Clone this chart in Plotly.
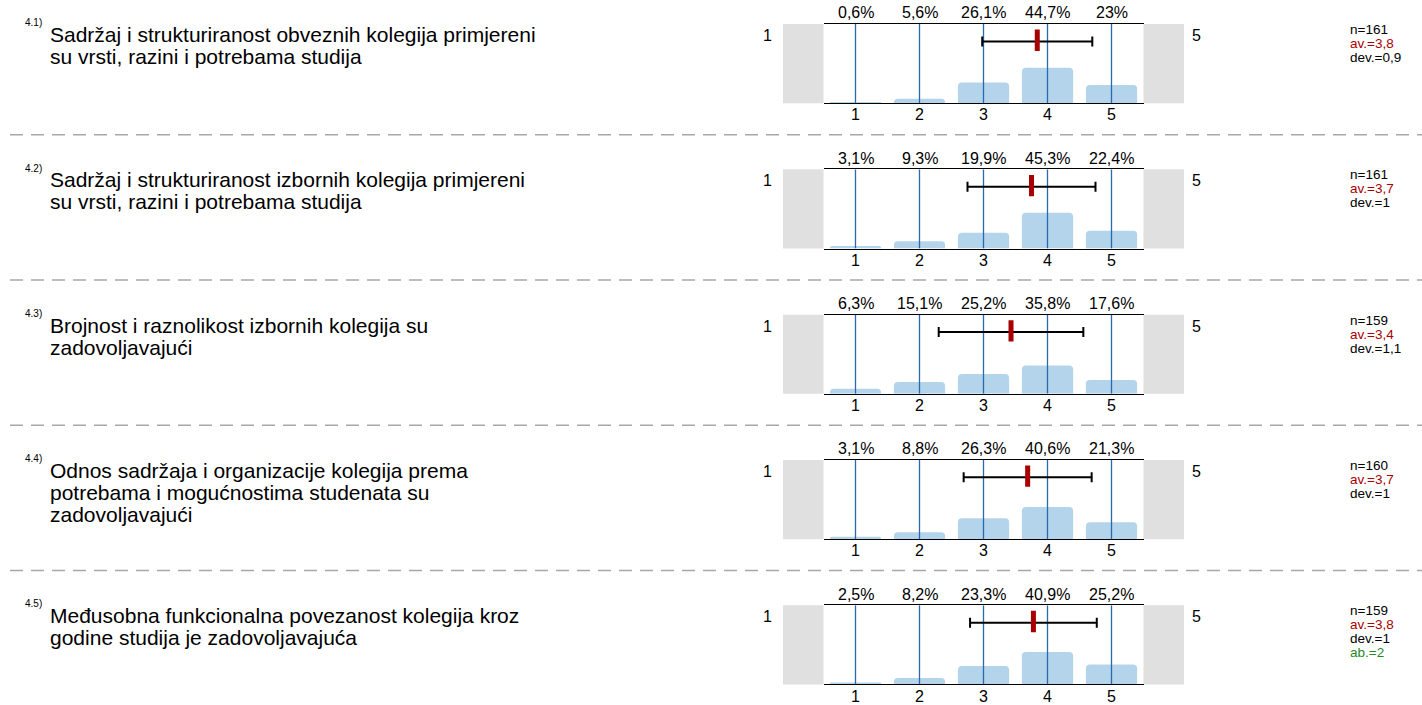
import plotly.graph_objects as go

W, H = 1422, 705

# ---------------- data ----------------
item_nums = ["4.1)", "4.2)", "4.3)", "4.4)", "4.5)"]
item_titles = [
    ["Sadržaj i strukturiranost obveznih kolegija primjereni", "su vrsti, razini i potrebama studija"],
    ["Sadržaj i strukturiranost izbornih kolegija primjereni", "su vrsti, razini i potrebama studija"],
    ["Brojnost i raznolikost izbornih kolegija su", "zadovoljavajući"],
    ["Odnos sadržaja i organizacije kolegija prema", "potrebama i mogućnostima studenata su", "zadovoljavajući"],
    ["Međusobna funkcionalna povezanost kolegija kroz", "godine studija je zadovoljavajuća"],
]
scale = [1, 2, 3, 4, 5]
pct_1 = [0.6, 5.6, 26.1, 44.7, 23]
pct_2 = [3.1, 9.3, 19.9, 45.3, 22.4]
pct_3 = [6.3, 15.1, 25.2, 35.8, 17.6]
pct_4 = [3.1, 8.8, 26.3, 40.6, 21.3]
pct_5 = [2.5, 8.2, 23.3, 40.9, 25.2]
pcts = [pct_1, pct_2, pct_3, pct_4, pct_5]
means = [3.84, 3.75, 3.43, 3.69, 3.78]
devs = [0.86, 1.0, 1.13, 1.0, 0.99]
n_text = ["161", "161", "159", "160", "159"]
av_text = ["3,8", "3,7", "3,4", "3,7", "3,8"]
dev_text = ["0,9", "1", "1,1", "1", "1"]
ab_text = [None, None, None, None, "2"]
left_label, right_label = "1", "5"

# ---------------- style / layout ----------------
FONT = "Liberation Sans, Arial, sans-serif"
ROW_STEP = 146.75
BOX_TOP, BOX_BOT = 24.3, 104.3
X0, X1 = 823.5, 1143.5
GRAY_L0, GRAY_R1 = 783, 1184
BAR_COLOR = "#b4d4ec"
VLINE_COLOR = "#2c68ad"
RED = "#a80000"
GREEN = "#1f8c1f"
SMALL = 16

def px(x):
    return x / W

def py(y):
    return 1 - y / H

def fmt(v):
    return f"{v:g}".replace(".", ",")

fig = go.Figure()
layout = dict(
    width=W, height=H, margin=dict(l=0, r=0, t=0, b=0),
    paper_bgcolor="white", plot_bgcolor="white",
    showlegend=False, font=dict(family=FONT, color="black"),
)
shapes, annotations = [], []

for i in range(5):
    off = i * ROW_STEP
    xa = "x" if i == 0 else f"x{i+1}"
    ya = "y" if i == 0 else f"y{i+1}"
    xk = "xaxis" if i == 0 else f"xaxis{i+1}"
    yk = "yaxis" if i == 0 else f"yaxis{i+1}"
    layout[xk] = dict(
        domain=[px(X0), px(X1)], range=[0.5, 5.5], anchor=ya,
        tickvals=scale, ticktext=[str(s) for s in scale],
        showline=True, mirror=True, linecolor="black", linewidth=1,
        showgrid=False, zeroline=False, ticks="", fixedrange=True,
        ticklabelstandoff=-3,
        tickfont=dict(size=SMALL, family=FONT, color="black"),
    )
    layout[yk] = dict(
        domain=[py(BOX_BOT + off), py(BOX_TOP + off)], range=[0, 100],
        anchor=xa, visible=False, fixedrange=True,
    )
    # bars
    fig.add_trace(go.Bar(
        x=scale, y=pcts[i], width=0.8, xaxis=xa, yaxis=ya,
        marker=dict(color=BAR_COLOR, line=dict(width=0), cornerradius=4),
        hoverinfo="skip",
    ))
    # vertical reference lines at each scale value
    vx, vy = [], []
    for s in scale:
        vx += [s, s, None]
        vy += [0, 100, None]
    fig.add_trace(go.Scatter(
        x=vx, y=vy, mode="lines", xaxis=xa, yaxis=ya,
        line=dict(color=VLINE_COLOR, width=1.3), hoverinfo="skip",
    ))
    # deviation bar
    fig.add_trace(go.Scatter(
        x=[means[i]], y=[78], mode="markers", xaxis=xa, yaxis=ya,
        marker=dict(size=1, color="black"),
        error_x=dict(type="data", array=[devs[i]], color="black", thickness=2, width=5),
        hoverinfo="skip",
    ))
    # mean marker
    fig.add_trace(go.Scatter(
        x=[means[i], means[i]], y=[66, 93], mode="lines", xaxis=xa, yaxis=ya,
        line=dict(color=RED, width=5), hoverinfo="skip",
    ))
    # grey side blocks
    for a, b in [(GRAY_L0, X0), (X1, GRAY_R1)]:
        shapes.append(dict(
            type="rect", xref="paper", yref="paper",
            x0=px(a), x1=px(b), y0=py(BOX_BOT + off), y1=py(BOX_TOP + off),
            fillcolor="#e0e0e0", line=dict(width=0), layer="below",
        ))
    # percentage labels
    for s, p in zip(scale, pcts[i]):
        annotations.append(dict(
            xref=xa, yref="paper", x=s, y=py(13 + off), text=fmt(p) + "%",
            showarrow=False, xanchor="center", yanchor="middle",
            font=dict(size=SMALL, family=FONT, color="black"),
        ))
    # scale end labels
    annotations.append(dict(
        xref="paper", yref="paper", x=px(774), y=py(36 + off), text=left_label,
        showarrow=False, xanchor="right", yanchor="middle",
        font=dict(size=SMALL, family=FONT, color="black"),
    ))
    annotations.append(dict(
        xref="paper", yref="paper", x=px(1190), y=py(36 + off), text=right_label,
        showarrow=False, xanchor="left", yanchor="middle",
        font=dict(size=SMALL, family=FONT, color="black"),
    ))
    # item number
    annotations.append(dict(
        xref="paper", yref="paper", x=px(23), y=py(23 + off), text=item_nums[i],
        showarrow=False, xanchor="left", yanchor="middle",
        font=dict(size=10, family=FONT, color="black"),
    ))
    # title lines
    for j, line in enumerate(item_titles[i]):
        annotations.append(dict(
            xref="paper", yref="paper", x=px(48), y=py(35 + off + j * 22), text=line,
            showarrow=False, xanchor="left", yanchor="middle",
            font=dict(size=21, family=FONT, color="black"),
        ))
    # stats
    stats = [("n=" + n_text[i], "black"), ("av.=" + av_text[i], RED), ("dev.=" + dev_text[i], "black")]
    if ab_text[i] is not None:
        stats.append(("ab.=" + ab_text[i], GREEN))
    for j, (t, c) in enumerate(stats):
        annotations.append(dict(
            xref="paper", yref="paper", x=px(1348), y=py(30 + off + j * 14), text=t,
            showarrow=False, xanchor="left", yanchor="middle",
            font=dict(size=13.5, family=FONT, color=c),
        ))
    # dashed separator
    if i < 4:
        shapes.append(dict(
            type="line", xref="paper", yref="paper",
            x0=px(10), x1=1, y0=py(136 + off), y1=py(136 + off),
            line=dict(color="#a8a8a8", width=1.5, dash="13px,8px"),
        ))

layout["shapes"] = shapes
layout["annotations"] = annotations
fig.update_layout(**layout)

fig.write_html(
    "out.html",
    config={"displayModeBar": False},
    post_script="document.body.style.margin='0';document.body.style.overflow='hidden';",
)
